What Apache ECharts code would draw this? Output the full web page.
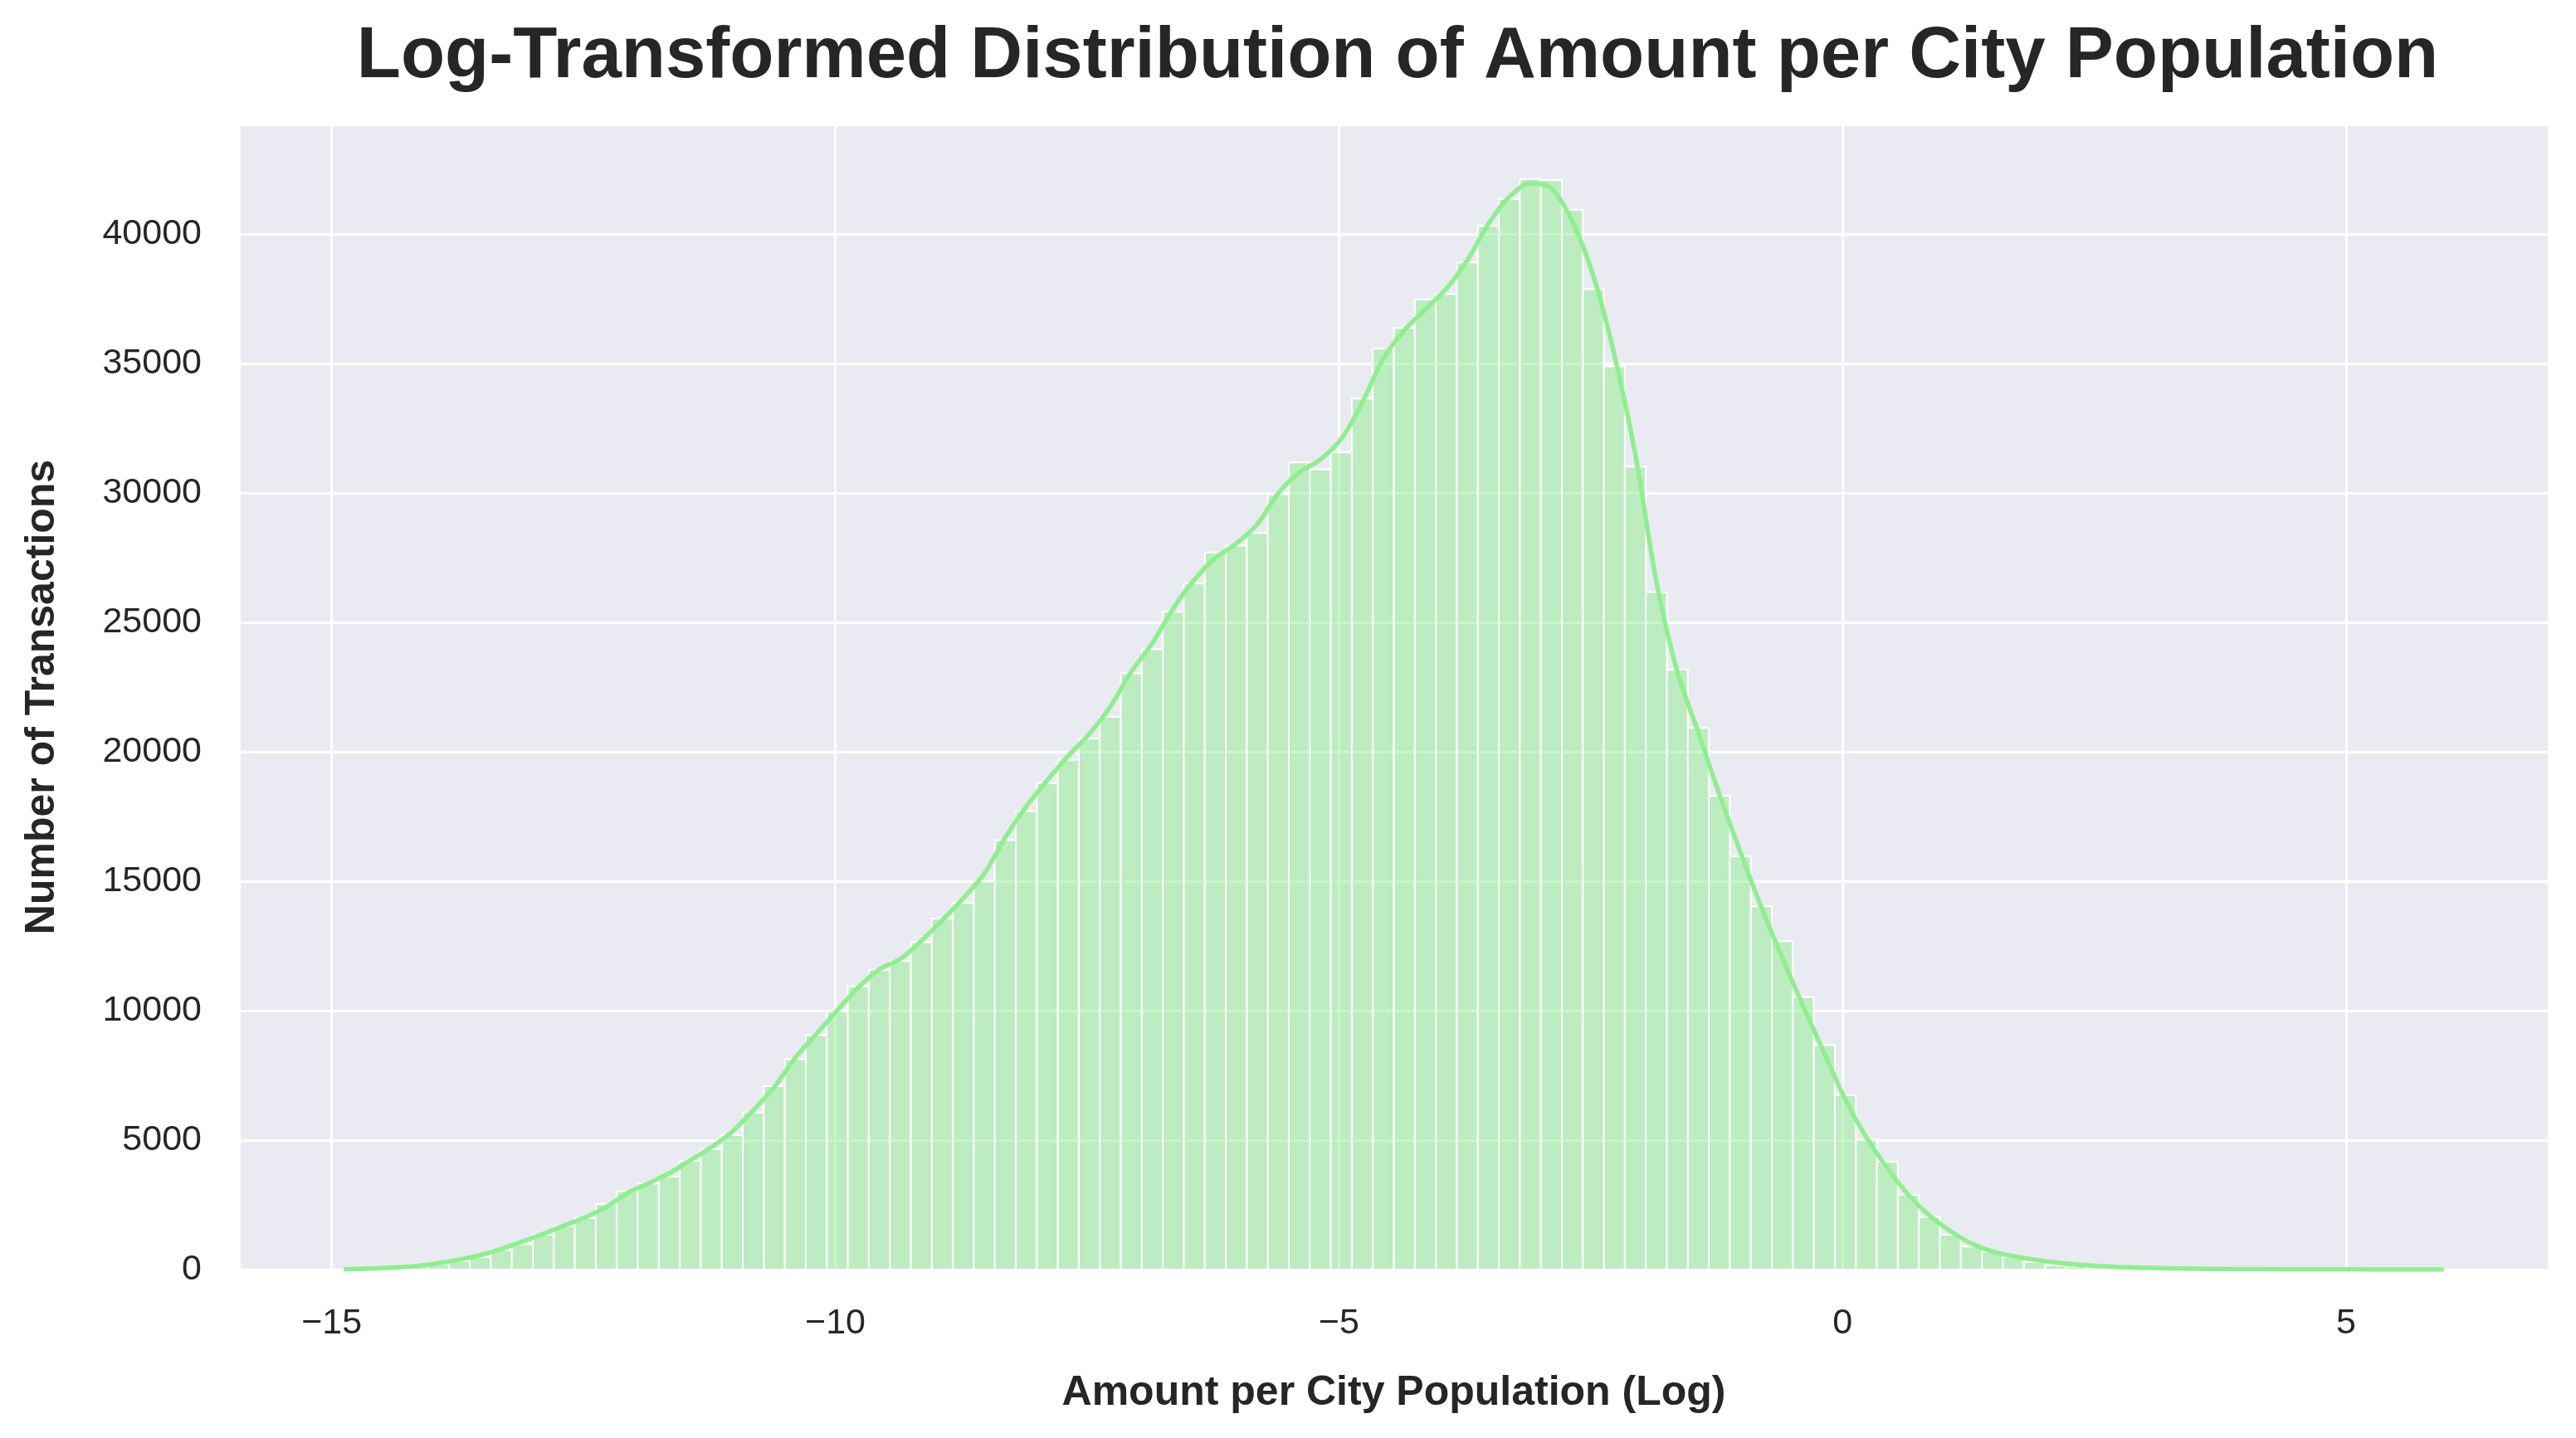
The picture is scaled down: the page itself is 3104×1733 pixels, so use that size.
<!DOCTYPE html>
<html>
<head>
<meta charset="utf-8">
<title>Log-Transformed Distribution of Amount per City Population</title>
<script src="https://cdn.jsdelivr.net/npm/echarts@6.0.0/dist/echarts.min.js"></script>
<style>
  html, body { margin: 0; padding: 0; background: #ffffff; }
  #main { width: 3104px; height: 1733px; }
</style>
</head>
<body>
<div id="main"></div>
<script>
// histogram bins (log amount per city population), 100 equal-width bins
var binStart = -14.88;
var binWidth = 0.2085;

// transactions per bin
var binCounts = [
    15, 35, 65, 110, 220, 340, 480, 755, 990, 1350,
    1680, 1990, 2530, 3030, 3330, 3590, 4200, 4650, 5200, 6070,
    7090, 8130, 9060, 9980, 10950, 11580, 11920, 12650, 13560, 14170,
    15000, 16590, 17720, 18800, 19700, 20520, 21360, 23040, 23970, 25420,
    26510, 27710, 27980, 28460, 29960, 31190, 30920, 31580, 33660, 35590,
    36390, 37490, 37700, 38920, 40330, 41370, 42140, 42100, 40950, 37890,
    34900, 31030, 26170, 23190, 20930, 18310, 15970, 14040, 12690, 10530,
    8670, 6740, 5030, 4170, 2890, 2040, 1350, 890, 670, 500,
    290, 160, 120, 90, 70, 55, 42, 33, 26, 20,
    16, 13, 10, 8, 6, 5, 4, 3, 2, 2
];

// kde curve height at each bin centre
var kdeCounts = [
    20, 45, 80, 140, 250, 380, 560, 800, 1080, 1380,
    1700, 2020, 2420, 2950, 3330, 3720, 4220, 4720, 5330, 6150,
    7050, 8180, 9100, 10020, 10900, 11600, 12000, 12700, 13500, 14350,
    15300, 16700, 17900, 18900, 19850, 20700, 21750, 23100, 24200, 25550,
    26650, 27500, 28050, 28800, 30000, 30800, 31300, 32100, 33500, 35200,
    36300, 37100, 37900, 39000, 40400, 41450, 41980, 41780, 40500, 38400,
    35350, 31500, 26600, 23100, 20760, 18370, 16140, 14000, 12040, 10160,
    8360, 6570, 5110, 3920, 2890, 2090, 1490, 1010, 700, 520,
    380, 270, 190, 140, 100, 75, 55, 40, 30, 22,
    17, 13, 10, 8, 6, 5, 4, 3, 2, 1
];
// kde height at the two ends of the data range
var kdeEnds = [8, 0];

var xMin = -15.92, xMax = 7.01;
var yMax = 44250;

var histData = [];
var kdeData = [];
var binEnd = binStart + binCounts.length * binWidth;
kdeData.push([binStart, kdeEnds[0]]);
for (var i = 0; i < binCounts.length; i++) {
    var x0 = binStart + i * binWidth;
    histData.push([x0, x0 + binWidth, binCounts[i]]);
    kdeData.push([x0 + binWidth / 2, kdeCounts[i]]);
}
kdeData.push([binEnd, kdeEnds[1]]);

var textColor = '#262626';
var fontFamily = '"Liberation Sans", Arial, sans-serif';

var myChart = echarts.init(document.getElementById('main'));

function renderBar(params, api) {
    var top = api.coord([api.value(0), api.value(2)]);
    var bottom = api.coord([api.value(1), 0]);
    return {
        type: 'rect',
        shape: {
            x: top[0],
            y: top[1],
            width: bottom[0] - top[0],
            height: bottom[1] - top[1]
        },
        style: {
            fill: 'rgba(144, 238, 144, 0.5)',
            stroke: '#ffffff',
            lineWidth: 2
        }
    };
}

var option = {
    backgroundColor: '#ffffff',
    animation: false,
    title: {
        text: 'Log-Transformed Distribution of Amount per City Population',
        left: 1679,
        textAlign: 'center',
        top: 21,
        textStyle: {
            color: textColor,
            fontFamily: fontFamily,
            fontSize: 87,
            fontWeight: 'bold'
        }
    },
    grid: {
        left: 288,
        right: 33,
        top: 150,
        bottom: 203,
        show: true,
        backgroundColor: '#eaeaf2',
        borderWidth: 0
    },
    xAxis: {
        type: 'value',
        min: xMin,
        max: xMax,
        splitNumber: 5,
        name: 'Amount per City Population (Log)',
        nameLocation: 'middle',
        nameGap: 124,
        nameTextStyle: {
            color: textColor,
            fontFamily: fontFamily,
            fontSize: 50,
            fontWeight: 'bold'
        },
        axisLine: { show: false },
        axisTick: { show: false },
        axisLabel: {
            showMinLabel: false,
            showMaxLabel: false,
            margin: 44,
            color: textColor,
            fontFamily: fontFamily,
            fontSize: 43,
            formatter: function (v) {
                return String(v).replace('-', '\u2212');
            }
        },
        splitLine: {
            show: true,
            lineStyle: { color: '#ffffff', width: 3 }
        }
    },
    yAxis: {
        type: 'value',
        min: 0,
        max: yMax,
        interval: 5000,
        name: 'Number of Transactions',
        nameLocation: 'middle',
        nameGap: 212,
        nameTextStyle: {
            color: textColor,
            fontFamily: fontFamily,
            fontSize: 50,
            fontWeight: 'bold'
        },
        axisLine: { show: false },
        axisTick: { show: false },
        axisLabel: {
            showMaxLabel: false,
            margin: 45,
            color: textColor,
            fontFamily: fontFamily,
            fontSize: 43,
            formatter: function (v) {
                return String(v);
            }
        },
        splitLine: {
            show: true,
            lineStyle: { color: '#ffffff', width: 3 }
        }
    },
    series: [
        {
            name: 'count',
            type: 'custom',
            renderItem: renderBar,
            encode: { x: [0, 1], y: 2 },
            data: histData,
            z: 2
        },
        {
            name: 'kde',
            type: 'line',
            data: kdeData,
            smooth: 0.3,
            symbol: 'none',
            lineStyle: { color: '#90ee90', width: 5.5 },
            z: 3
        }
    ]
};

myChart.setOption(option);
</script>
</body>
</html>
